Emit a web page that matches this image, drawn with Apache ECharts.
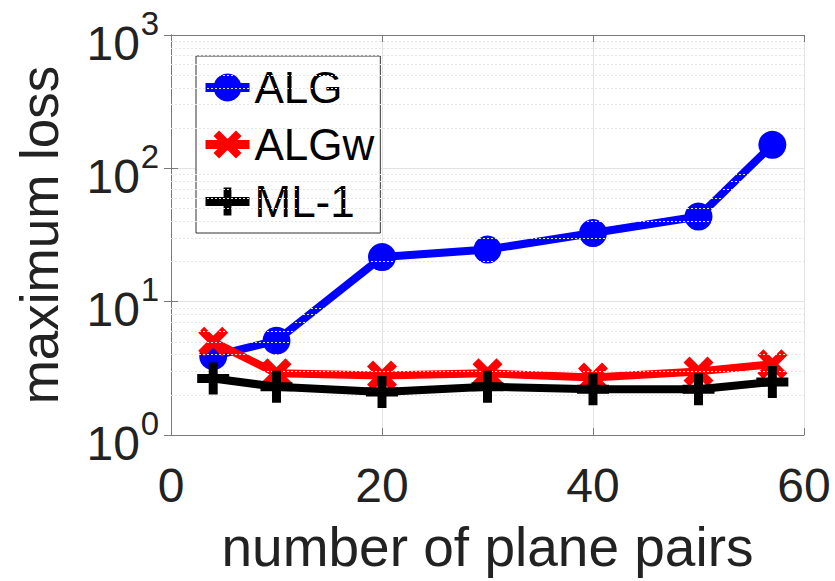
<!DOCTYPE html>
<html><head><meta charset="utf-8">
<script src="https://cdn.jsdelivr.net/npm/echarts@6/dist/echarts.min.js"></script>
<style>html,body{margin:0;padding:0;background:#fff}#c{width:835px;height:581px}</style>
</head><body><div id="c"></div>
<script>
const xValues = [4, 10, 20, 30, 40, 50, 57];
const algValues = [3.9, 5.1, 21.6, 24.6, 32.7, 43.5, 150];
const algwValues = [5.0, 2.9, 2.8, 2.9, 2.7, 3.0, 3.4];
const ml1Values = [2.65, 2.3, 2.1, 2.3, 2.2, 2.2, 2.5];
const seriesNames = ['ALG', 'ALGw', 'ML-1'];
const xTickLabels = ['0', '20', '40', '60'];
const yTickBase = '10';
const yTickExponents = {1: '0', 10: '1', 100: '2', 1000: '3'};
const minorGridValues = [2, 3, 4, 5, 6, 7, 8, 9, 20, 30, 40, 50, 60, 70, 80, 90, 200, 300, 400, 500, 600, 700, 800, 900];

const FONT = 'Liberation Sans, Arial, Helvetica, sans-serif';
const plusPath = 'path://M3.6,0 H6.4 V3.6 H10 V6.4 H6.4 V10 H3.6 V6.4 H0 V3.6 H3.6 Z';
const crossPath = 'path://M0,2 L2,0 L5,3 L8,0 L10,2 L7,5 L10,8 L8,10 L5,7 L2,10 L0,8 L3,5 Z';

function pairs(vals) { return xValues.map((x, i) => [x, vals[i]]); }

const chart = echarts.init(document.getElementById('c'), null, {renderer: 'svg'});
const axisColor = '#7a7a7a';
const hiddenLogAxis = {
  type: 'log', logBase: 10, min: 1, max: 1000, position: 'left',
  axisLine: {show: false}, axisTick: {show: false}, splitLine: {show: false}
};
chart.setOption({
  animation: false,
  backgroundColor: '#fff',
  grid: {left: 171, right: 31, top: 35, bottom: 146, containLabel: false},
  legend: {
    data: seriesNames, orient: 'vertical', left: 196, top: 56,
    backgroundColor: '#fff', borderColor: '#333', borderWidth: 1,
    padding: [9, 6, 9, 5], itemGap: 12, itemWidth: 44, itemHeight: 35,
    lineStyle: {width: 9, type: 'solid'},
    itemStyle: {borderWidth: 0},
    textStyle: {fontSize: 44, fontFamily: FONT, color: '#000', lineHeight: 45}
  },
  xAxis: [{
    type: 'value', min: 0, max: 60, interval: 20,
    name: 'number of plane pairs', nameLocation: 'middle', nameGap: 84,
    nameTextStyle: {fontSize: 55, fontFamily: FONT, color: '#222'},
    axisLine: {show: true, lineStyle: {color: axisColor, width: 1}},
    axisTick: {show: true, inside: true, length: 7, lineStyle: {color: axisColor}},
    axisLabel: {fontSize: 48, fontFamily: FONT, color: '#222', margin: 26,
      formatter: (v) => xTickLabels[Math.round(v / 20)] },
    splitLine: {show: true, lineStyle: {color: '#e3e3e3', width: 1}}
  }, {
    type: 'value', min: 0, max: 60, interval: 20, position: 'top',
    axisLine: {show: true, lineStyle: {color: axisColor, width: 1}},
    axisTick: {show: true, inside: true, length: 7, lineStyle: {color: axisColor}},
    axisLabel: {show: false}, splitLine: {show: false}
  }],
  yAxis: [{
    type: 'log', logBase: 10, min: 1, max: 1000,
    name: 'maximum loss', nameLocation: 'middle', nameGap: 105,
    nameTextStyle: {fontSize: 53, fontFamily: FONT, color: '#222'},
    axisLine: {show: true, lineStyle: {color: axisColor, width: 1}},
    axisTick: {show: true, inside: true, length: 7, lineStyle: {color: axisColor}},
    axisLabel: {
      margin: 31, color: '#222', fontFamily: FONT, fontSize: 48, lineHeight: 16,
      verticalAlign: 'top',
      formatter: () => yTickBase
    },
    splitLine: {show: true, lineStyle: {color: '#e3e3e3', width: 1}}
  }, {
    type: 'log', logBase: 10, min: 1, max: 1000, position: 'right',
    axisLine: {show: true, lineStyle: {color: axisColor, width: 1}},
    axisTick: {show: true, inside: true, length: 7, lineStyle: {color: axisColor}},
    axisLabel: {show: false}, splitLine: {show: false}
  }, Object.assign({}, hiddenLogAxis, {
    axisLabel: {
      margin: 12, color: '#222', fontFamily: FONT, fontSize: 33, lineHeight: 24,
      verticalAlign: 'bottom',
      formatter: (v) => yTickExponents[Math.round(v)]
    }
  })],
  series: [{
    type: 'line', data: [], silent: true, z: 1,
    markLine: {
      silent: true, symbol: ['none', 'none'], label: {show: false},
      lineStyle: {color: '#e6e6e6', width: 1, type: [2, 2]},
      emphasis: {disabled: true},
      data: minorGridValues.map(v => ({yAxis: v}))
    }
  }, {
    name: seriesNames[0], type: 'line', data: pairs(algValues), z: 3,
    color: '#0000ff', lineStyle: {width: 8, color: '#0000ff', type: 'solid'},
    symbol: 'circle', symbolSize: 28, itemStyle: {color: '#0000ff', borderWidth: 0}
  }, {
    name: seriesNames[1], type: 'line', data: pairs(algwValues), z: 4,
    color: '#ff0000', lineStyle: {width: 8, color: '#ff0000', type: 'solid'},
    symbol: crossPath, symbolSize: 30, itemStyle: {color: '#ff0000', borderWidth: 0}
  }, {
    name: seriesNames[2], type: 'line', data: pairs(ml1Values), z: 5,
    color: '#000000', lineStyle: {width: 8, color: '#000000', type: 'solid'},
    symbol: plusPath, symbolSize: 32, itemStyle: {color: '#000000', borderWidth: 0}
  }]
});
</script></body></html>
